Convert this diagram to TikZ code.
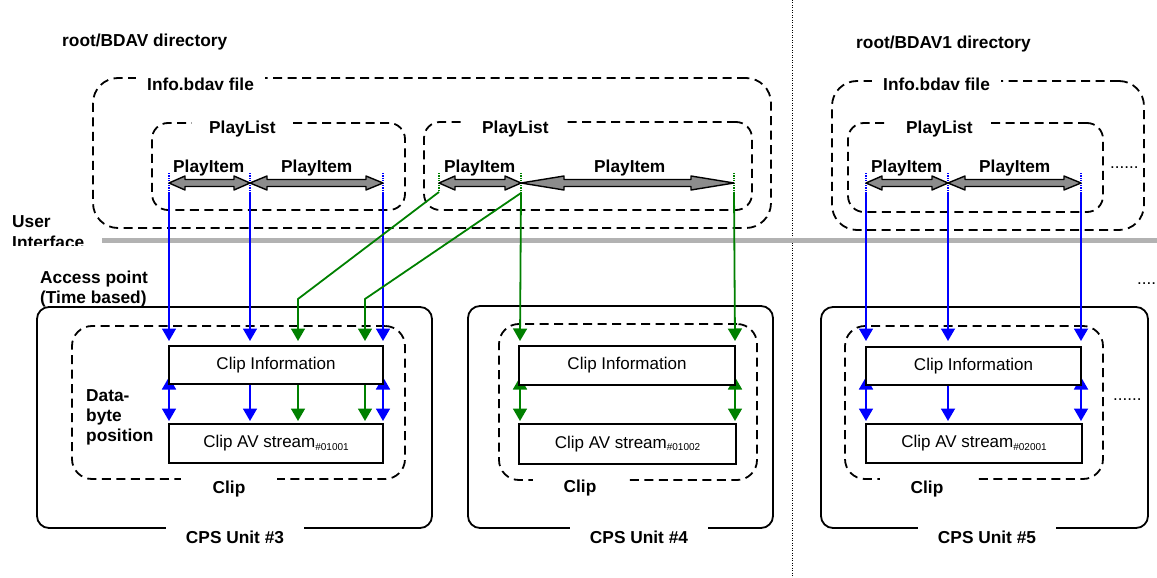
\documentclass[tikz,border=0pt]{standalone}
\usepackage{fontspec}
\setmainfont{Liberation Sans}
\usetikzlibrary{arrows.meta,calc}
\definecolor{ublue}{RGB}{0,0,255}
\definecolor{ugreen}{RGB}{0,128,0}
\definecolor{ugray}{RGB}{178,178,178}
\definecolor{afill}{RGB}{140,140,140}
\newcommand\fatarr[3]{%
  \filldraw[fat] (#1) -- ($(#1)+(#3,-7)$) -- ($(#1)+(#3,-3.5)$) -- ($(#2)+(-#3,-3.5)$) -- ($(#2)+(-#3,-7)$) -- (#2)
   -- ($(#2)+(-#3,7)$) -- ($(#2)+(-#3,3.5)$) -- ($(#1)+(#3,3.5)$) -- ($(#1)+(#3,7)$) -- cycle;}
\begin{document}
\begin{tikzpicture}[x=1pt,y=-1pt,
  lbl/.style={font=\fontsize{17.3}{20}\selectfont\bfseries, inner sep=0pt},
  gaplbl/.style={lbl, fill=white, inner ysep=6pt, inner xsep=#1},
  dbox/.style={draw, line width=1.8pt, dash pattern=on 9pt off 5.5pt, rounded corners=#1, inner sep=0pt},
  cpsbox/.style={draw, line width=1.8pt, rounded corners=12pt, inner sep=0pt},
  databox/.style={draw, fill=white, line width=1.8pt, minimum width=215pt, minimum height=38pt, inner sep=0pt, font=\fontsize{17}{20}\selectfont},
  barrow/.style={ublue, line width=1.8pt, -{Triangle[width=14pt,length=12.5pt]}},
  garrow/.style={ugreen, line width=1.8pt, -{Triangle[width=14pt,length=12.5pt]}},
  bdbl/.style={ublue, line width=1.8pt, {Triangle[width=14pt,length=12.5pt]}-{Triangle[width=14pt,length=12.5pt]}},
  gdbl/.style={ugreen, line width=1.8pt, {Triangle[width=14pt,length=12.5pt]}-{Triangle[width=14pt,length=12.5pt]}},
  bmark/.style={ublue, line width=1.2pt, dash pattern=on 1.2pt off 1.2pt},
  gmark/.style={ugreen, line width=1.2pt, dash pattern=on 1.2pt off 1.2pt},
  fat/.style={fill=afill, draw=black, line width=1.4pt, line join=round},
]
\useasboundingbox (0,0) rectangle (1157,578);

% separator
\coordinate (sepT) at (792,0);
\coordinate (sepB) at (792,578);
\draw[line width=1pt, dash pattern=on 1pt off 1.5pt] (sepT) -- (sepB);

% directory boxes
\node[lbl, anchor=base west] (dir1) at (62,47) {root/BDAV directory};
\node[lbl, anchor=base west] (dir2) at (856,49) {root/BDAV1 directory};

\node[dbox=25pt, minimum width=678pt, minimum height=150pt] (info1) at (432,153) {};
\node[dbox=16pt, minimum width=253pt, minimum height=87pt] (pl1) at (278.5,166.5) {};
\node[dbox=16pt, minimum width=328pt, minimum height=88pt] (pl2) at (588,166) {};
\node[dbox=25pt, minimum width=312pt, minimum height=149pt] (info2) at (988,155.5) {};
\node[dbox=16pt, minimum width=255pt, minimum height=89pt] (pl3) at (975.5,167.5) {};

\node[gaplbl=11pt, anchor=base west] (info1l) at (136,91) {Info.bdav file};
\node[gaplbl=11pt, anchor=base west] (info2l) at (872,90) {Info.bdav file};
\node[gaplbl=17pt, anchor=base west] (pl1l) at (192,133) {PlayList};
\node[gaplbl=17pt, anchor=base west] (pl2l) at (465,133) {PlayList};
\node[gaplbl=17pt, anchor=base west] (pl3l) at (889,133) {PlayList};

\node[lbl, anchor=base west] (pi1) at (173,172) {PlayItem};
\node[lbl, anchor=base west] (pi2) at (281,172) {PlayItem};
\node[lbl, anchor=base west] (pi3) at (444,172) {PlayItem};
\node[lbl, anchor=base west] (pi4) at (594,172) {PlayItem};
\node[lbl, anchor=base west] (pi5) at (871,172) {PlayItem};
\node[lbl, anchor=base west] (pi6) at (979,172) {PlayItem};
\node[font=\fontsize{17}{20}\selectfont, inner sep=0pt, anchor=base west] (dots1) at (1110,168) {......};

% user interface
\node[lbl, anchor=base west] (user) at (12,227) {User};
\begin{scope}
\clip (0,230) rectangle (100,245);
\node[lbl, anchor=base west] (iface) at (12,248) {Interface};
\end{scope}
\coordinate (ui1) at (102,240);
\coordinate (ui2) at (1157,240);
\draw[ugray, line width=5pt] (ui1) -- (ui2);

\node[lbl, anchor=base west] (ap1) at (40,283) {Access point};
\node[lbl, anchor=base west] (ap2) at (40,303) {(Time based)};
\node[font=\fontsize{17}{20}\selectfont, inner sep=0pt, anchor=base west] (dots2) at (1137,284) {....};
\node[font=\fontsize{17}{20}\selectfont, inner sep=0pt, anchor=base west] (dots3) at (1113,400) {......};

% CPS units
\node[cpsbox, minimum width=395pt, minimum height=221pt] (cps3) at (234.5,417.5) {};
\node[cpsbox, minimum width=305pt, minimum height=222pt] (cps4) at (620.5,417) {};
\node[cpsbox, minimum width=327pt, minimum height=221pt] (cps5) at (984.5,417.5) {};
\node[dbox=20pt, minimum width=333pt, minimum height=153pt] (clip3) at (238.5,402.5) {};
\node[dbox=20pt, minimum width=258pt, minimum height=156pt] (clip4) at (628,402) {};
\node[dbox=20pt, minimum width=258pt, minimum height=153pt] (clip5) at (974,402.5) {};

\node[gaplbl=20pt, anchor=base] (cps3l) at (235,543) {CPS Unit \#3};
\node[gaplbl=20pt, anchor=base] (cps4l) at (639,543) {CPS Unit \#4};
\node[gaplbl=20pt, anchor=base] (cps5l) at (987,543) {CPS Unit \#5};
\node[gaplbl=32pt, anchor=base] (clip3l) at (229,493) {Clip};
\node[gaplbl=31pt, anchor=base] (clip4l) at (580,492) {Clip};
\node[gaplbl=31pt, anchor=base] (clip5l) at (927,493) {Clip};

\node[lbl, anchor=base west] (db1) at (86,401) {Data-};
\node[lbl, anchor=base west] (db2) at (86,421) {byte};
\node[lbl, anchor=base west] (db3) at (86,441) {position};

% play item points
\coordinate (r1a) at (169,183);
\coordinate (r1b) at (250,183);
\coordinate (r1c) at (383,183);
\coordinate (r2a) at (439,183);
\coordinate (r2b) at (521,183);
\coordinate (r2c) at (734,183);
\coordinate (r3a) at (866,183);
\coordinate (r3b) at (948,183);
\coordinate (r3c) at (1081,183);

\foreach \p in {r1a,r1b,r1c,r3a,r3b,r3c}
  \draw[bmark] ([yshift=10pt]\p) -- ([yshift=-9pt]\p);
\foreach \p in {r2a,r2b,r2c}
  \draw[gmark] ([yshift=10pt]\p) -- ([yshift=-9pt]\p);

\fatarr{r1a}{r1b}{16}
\fatarr{r1b}{r1c}{17}
\fatarr{r2a}{r2b}{16}
\fatarr{r2b}{r2c}{43}
\fatarr{r3a}{r3b}{16}
\fatarr{r3b}{r3c}{17}

% targets
\coordinate (t3a) at (169,341);
\coordinate (t3b) at (250,341);
\coordinate (t3c) at (298,341);
\coordinate (t3d) at (365,341);
\coordinate (t3e) at (383,341);
\coordinate (k3c) at (298,299);
\coordinate (k3d) at (365,299);
\coordinate (t4a) at (520,341);
\coordinate (t4b) at (735,341);
\coordinate (t5a) at (866,341);
\coordinate (t5b) at (948,341);
\coordinate (t5c) at (1081,341);

\draw[barrow] ([yshift=-9pt]r1a) -- (t3a);
\draw[barrow] ([yshift=-9pt]r1b) -- (t3b);
\draw[barrow] ([yshift=-9pt]r1c) -- (t3e);
\draw[garrow] ([yshift=-9pt]r2a) -- (k3c) -- (t3c);
\draw[garrow] ([yshift=-10pt]r2b) -- (k3d) -- (t3d);
\draw[garrow] ([yshift=-9pt]r2b) -- (t4a);
\draw[garrow] ([yshift=-9pt]r2c) -- (t4b);
\draw[barrow] ([yshift=-9pt]r3a) -- (t5a);
\draw[barrow] ([yshift=-9pt]r3b) -- (t5b);
\draw[barrow] ([yshift=-9pt]r3c) -- (t5c);

% between boxes
\coordinate (u3a) at (169,377); \coordinate (d3a) at (169,421);
\coordinate (u3b) at (250,384); \coordinate (d3b) at (250,421);
\coordinate (u3c) at (298,384); \coordinate (d3c) at (298,421);
\coordinate (u3d) at (365,384); \coordinate (d3d) at (365,421);
\coordinate (u3e) at (383,377); \coordinate (d3e) at (383,421);
\coordinate (u4a) at (520,377); \coordinate (d4a) at (520,421);
\coordinate (u4b) at (735,377); \coordinate (d4b) at (735,421);
\coordinate (u5a) at (866,377); \coordinate (d5a) at (866,421);
\coordinate (u5b) at (948,384); \coordinate (d5b) at (948,421);
\coordinate (u5c) at (1081,377); \coordinate (d5c) at (1081,421);
\draw[bdbl] (u3a) -- (d3a);
\draw[barrow] (u3b) -- (d3b);
\draw[garrow] (u3c) -- (d3c);
\draw[garrow] (u3d) -- (d3d);
\draw[bdbl] (u3e) -- (d3e);
\draw[gdbl] (u4a) -- (d4a);
\draw[gdbl] (u4b) -- (d4b);
\draw[bdbl] (u5a) -- (d5a);
\draw[barrow] (u5b) -- (d5b);
\draw[bdbl] (u5c) -- (d5c);

% data boxes
\node[databox, minimum width=214pt] (ci3) at (276,365) {Clip Information};
\node[databox, minimum width=214pt, minimum height=39pt] (cs3) at (276,443.5) {Clip AV stream\raisebox{-2.5pt}{\fontsize{10}{10}\selectfont\#01001}};
\node[databox, minimum width=216pt, minimum height=39pt] (ci4) at (627,365.5) {Clip Information};
\node[databox, minimum width=217pt, minimum height=40pt] (cs4) at (627.5,444) {Clip AV stream\raisebox{-2.5pt}{\fontsize{10}{10}\selectfont\#01002}};
\node[databox] (ci5) at (973.5,366) {Clip Information};
\node[databox, minimum width=216pt, minimum height=39pt] (cs5) at (974,443.5) {Clip AV stream\raisebox{-2.5pt}{\fontsize{10}{10}\selectfont\#02001}};
\end{tikzpicture}
\end{document}
